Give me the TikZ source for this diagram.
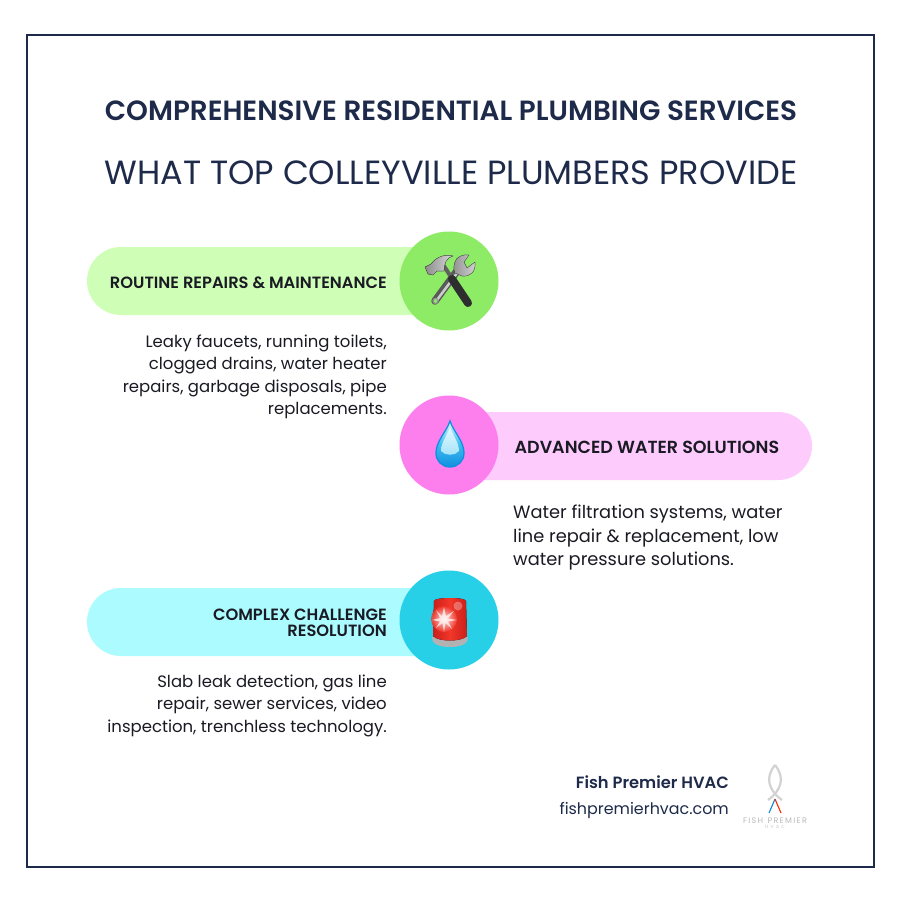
\documentclass[tikz,border=0pt]{standalone}
\usepackage{fontspec}
\setmainfont{Poppins}
\newfontfamily\semi{Poppins SemiBold}
\usetikzlibrary{shadings}
\definecolor{ink}{HTML}{1E2A4A}
\definecolor{dark}{HTML}{1A1A24}
\definecolor{gpill}{HTML}{CFFFB6}
\definecolor{gcirc}{HTML}{8DEB66}
\definecolor{ppill}{HTML}{FECBFD}
\definecolor{pcirc}{HTML}{FD7FEE}
\definecolor{cpill}{HTML}{ACFCFF}
\definecolor{ccirc}{HTML}{27D0E6}
\definecolor{dropdeep}{HTML}{0F8FE0}
\definecolor{dropmid}{HTML}{40BDF0}
\definecolor{droplight}{HTML}{E4FAFD}
\definecolor{sirenred}{HTML}{F2362A}
\definecolor{sirendark}{HTML}{C9201A}
\tikzset{
  x=1pt,y=-1pt,
  pill/.style={rounded corners=34pt},
  bubble/.style={circle,minimum size=99pt,inner sep=0pt},
  lab/.style={font=\semi\fontsize{16.3}{15.5}\selectfont,text=dark,inner sep=0pt},
  body/.style={font=\fontsize{16.5}{22.5}\selectfont,text=dark,inner sep=0pt},
  ttl/.style={text=ink,inner sep=0pt},
}
\begin{document}
\begin{tikzpicture}
\useasboundingbox (0,0) rectangle (900,900);
\fill[white] (0,0) rectangle (900,900);
\draw[ink,line width=2pt] (27,34.5) rectangle (873.5,866.5);

\node[ttl,font=\semi\fontsize{27.8}{30}\selectfont] (t1) at (451,110.5) {COMPREHENSIVE RESIDENTIAL PLUMBING SERVICES};
\node[ttl,font=\fontsize{33.55}{36}\selectfont] (t2) at (451,172.5) {WHAT TOP COLLEYVILLE PLUMBERS PROVIDE};

% pills
\fill[gpill,pill] (87,247) rectangle (450,315);
\fill[ppill,pill] (450,412) rectangle (812,480);
\fill[cpill,pill] (87,588) rectangle (450,656);
\node[bubble,fill=gcirc] (c1) at (449,281) {};
\node[bubble,fill=pcirc] (c2) at (449,445) {};
\node[bubble,fill=ccirc] (c3) at (449,620) {};

% tools emoji
\draw[line width=7.5pt,color=gray!70!black,line cap=round] (435,301) -- (460,267);
\draw[line width=2.5pt,color=gray!40,line cap=round] (437,300) -- (460,269);
\fill[gcirc] (435.5,301) circle (2);
\draw[gray!85,line width=1pt] (435.5,301) circle (2.6);
\fill[left color=gray!85,right color=gray!35,draw=gray!60!black,line width=.3pt] (455,262) .. controls (456,257) and (463,254) .. (469,255) -- (464,262) -- (467,268) -- (475,262) .. controls (476,272) and (470,277) .. (462,276) -- (455,273) .. controls (453,269) and (454,265) .. (455,262) -- cycle;
\draw[line width=4pt,color=gray!75!black] (442,263) -- (453,280);
\draw[line width=8pt,color=black!82,line cap=round] (452,279) -- (468,303);
\fill[left color=gray!90,right color=gray!30,draw=gray!50!black,line width=.3pt] (425,267) -- (431,264) .. controls (437,256) and (446,254) .. (453,256) .. controls (446,258) and (444,264) .. (444,271) -- (437,271) -- (433,275) -- (428,274) -- cycle;

% drop emoji
\shade[top color=droplight,bottom color=dropdeep,middle color=dropmid]
  (450,421) .. controls (453,431) and (464,441) .. (464,453)
  .. controls (464,461) and (458,467) .. (450,467)
  .. controls (442,467) and (436,461) .. (436,453)
  .. controls (436,441) and (447,431) .. (450,421) -- cycle;
\shade[top color=droplight,bottom color=droplight!60!dropmid]
  (450,427) .. controls (452,434) and (459,442) .. (459,451)
  .. controls (455,456) and (445,456) .. (441,451)
  .. controls (441,442) and (448,434) .. (450,427) -- cycle;
\draw[dropdeep,line width=1.3pt]
  (450,421) .. controls (453,431) and (464,441) .. (464,453)
  .. controls (464,461) and (458,467) .. (450,467)
  .. controls (442,467) and (436,461) .. (436,453)
  .. controls (436,441) and (447,431) .. (450,421) -- cycle;

% siren emoji
\fill[gray!60] (432,637) -- (468,637) .. controls (469,643) and (462,647) .. (450,647) .. controls (438,647) and (431,643) .. (432,637) -- cycle;
\fill[left color=sirendark,right color=sirendark,middle color=sirenred]
  (434,601) .. controls (434,597) and (466,597) .. (466,601) -- (467,636) .. controls (462,642) and (438,642) .. (433,636) -- cycle;
\shade[inner color=white,outer color=sirenred,opacity=.85] (444,619) circle (13);
\fill[white,opacity=.7] (444,607) -- (446,616) -- (454,611) -- (448,618.5) -- (457,620) -- (448,621.5) -- (452,629) -- (445.5,623) -- (444,632) -- (442.5,623) -- (436,628) -- (440,621.5) -- (432,620) -- (440,618) -- (436,610) -- (442,616) -- cycle;
\fill[white,opacity=.3] (458,606) circle (4.5);

% labels
\node[lab,anchor=east] (l1) at (387,282.5) {ROUTINE REPAIRS \& MAINTENANCE};
\node[lab,anchor=west,font=\semi\fontsize{17.5}{19}\selectfont] (l2) at (514.5,447) {ADVANCED WATER SOLUTIONS};
\node[lab,anchor=east,align=right] (l3) at (387,623) {COMPLEX CHALLENGE\\RESOLUTION};

\node[body,anchor=north east,align=right] (b1) at (387,334.5) {Leaky faucets, running toilets,\\clogged drains, water heater\\repairs, garbage disposals, pipe\\replacements.};
\node[body,anchor=north west,align=left,font=\fontsize{17.8}{23.2}\selectfont] (b2) at (513,505) {Water filtration systems, water\\line repair \& replacement, low\\water pressure solutions.};
\node[body,anchor=north east,align=right] (b3) at (387,674.5) {Slab leak detection, gas line\\repair, sewer services, video\\inspection, trenchless technology.};

% footer
\node[anchor=east,inner sep=0pt,text=ink,font=\semi\fontsize{16.3}{18}\selectfont] (f1) at (729,782) {Fish Premier HVAC};
\node[anchor=east,inner sep=0pt,text=ink,font=\fontsize{15.9}{18}\selectfont] (f2) at (729,810) {fishpremierhvac.com};

% logo
\draw[gray!35,line width=2.2pt] (775,765) .. controls (765,777) and (768,790) .. (782,800);
\draw[gray!35,line width=2.2pt] (775,765) .. controls (785,777) and (782,790) .. (768,800);
\draw[cyan!70!blue,line width=1.1pt] (775,799) -- (769,813);
\draw[red!70!orange,line width=1.1pt] (775,799) -- (781,813);
\node[inner sep=0pt,text=gray!55,font=\fontsize{8}{9}\selectfont] (g1) at (775,820.5) {F\,I\,S\,H\ \ P\,R\,E\,M\,I\,E\,R};
\node[inner sep=0pt,text=gray!45,font=\fontsize{4.5}{5}\selectfont] (g2) at (775,827) {H\ \ V\ \ A\ \ C};
\end{tikzpicture}
\end{document}
